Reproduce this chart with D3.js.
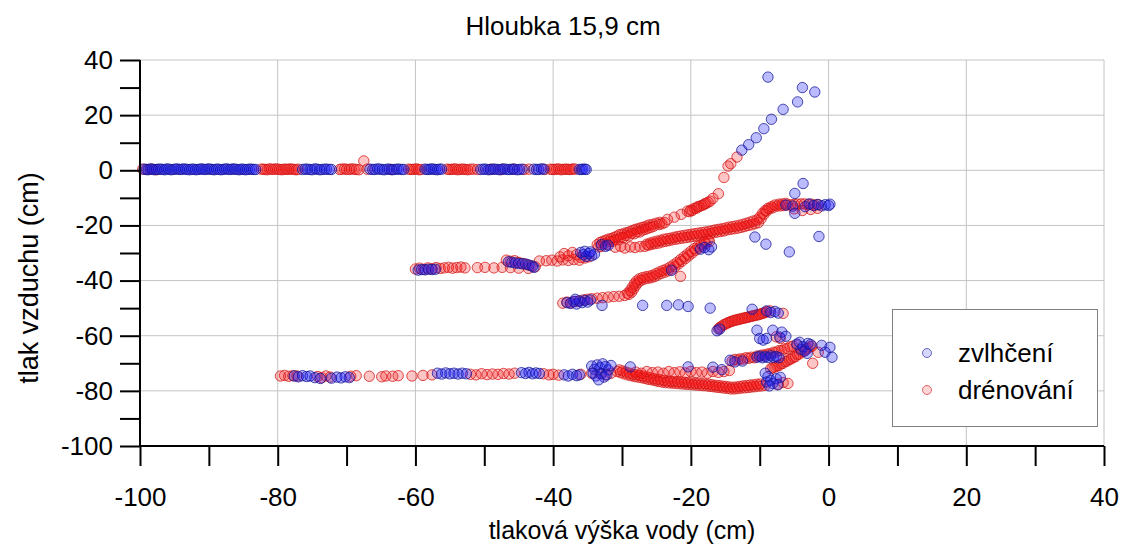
<!DOCTYPE html>
<html>
<head>
<meta charset="utf-8">
<script src="https://cdn.jsdelivr.net/npm/d3@7"></script>
<style>
  body { margin: 0; background: #fff; }
  svg text { font-family: "Liberation Sans", Arial, sans-serif; fill: #000; }
</style>
</head>
<body>
<svg id="chart" width="1126" height="545"></svg>
<script>
// ---- texts and ticks ----
const chartTitle = "Hloubka 15,9 cm";
const xTitle = "tlaková výška vody (cm)";
const yTitle = "tlak vzduchu (cm)";
const seriesNames = ["zvlhčení", "drénování"];
const xTicks = [-100, -90, -80, -70, -60, -50, -40, -30, -20, -10, 0, 10, 20, 30, 40];
const xTickLabels = [-100, -80, -60, -40, -20, 0, 20, 40];
const yTicks = [-100, -90, -80, -70, -60, -50, -40, -30, -20, -10, 0, 10, 20, 30, 40];
const yTickLabels = [-100, -80, -60, -40, -20, 0, 20, 40];

// ---- zvlhčení (wetting), [water head, air pressure] in cm ----
const wetPlateau = [
  [-99.4,0.4],[-99.1,0.3],[-98.8,0.2],[-98.5,0.5],[-98.2,0.4],[-97.9,0.2],[-97.6,0.3],[-97.3,0.4],
  [-97.0,0.4],[-96.7,0.3],[-96.4,0.2],[-96.1,0.5],[-95.8,0.4],[-95.5,0.2],[-95.2,0.3],[-94.9,0.4],
  [-94.6,0.5],[-94.3,0.3],[-94.0,0.3],[-93.7,0.5],[-93.4,0.4],[-93.1,0.3],[-92.8,0.2],[-92.5,0.4],
  [-92.2,0.4],[-91.9,0.2],[-91.6,0.3],[-91.3,0.4],[-91.0,0.5],[-90.7,0.3],[-90.4,0.3],[-90.1,0.5],
  [-89.8,0.4],[-89.5,0.3],[-89.2,0.2],[-88.9,0.4],[-88.6,0.4],[-88.3,0.2],[-88.0,0.3],[-87.7,0.4],
  [-87.4,0.5],[-87.1,0.3],[-86.8,0.3],[-86.5,0.5],[-86.2,0.4],[-85.9,0.3],[-85.6,0.2],[-85.3,0.4],
  [-85.0,0.4],[-84.7,0.2],[-84.4,0.3],[-84.1,0.4],[-83.8,0.4],[-83.5,0.3],[-83.2,0.3],
  [-76.4,0.3],[-76.0,0.4],[-75.7,0.4],[-75.3,0.3],[-75.0,0.2],[-74.6,0.5],[-74.3,0.4],[-73.9,0.2],
  [-73.6,0.3],[-73.2,0.4],[-72.9,0.4],[-72.5,0.3],[-72.2,0.3],
  [-66.6,0.4],[-66.2,0.3],[-65.9,0.3],[-65.5,0.5],[-65.2,0.4],[-64.8,0.3],[-64.5,0.2],[-64.1,0.4],
  [-63.8,0.4],[-63.4,0.2],[-63.1,0.3],[-62.7,0.4],[-62.4,0.4],[-62.0,0.3],[-61.7,0.3],
  [-58.6,0.4],[-58.3,0.3],[-58.0,0.3],[-57.7,0.5],[-57.4,0.4],[-57.1,0.3],[-56.8,0.2],[-56.5,0.4],[-56.2,0.4],
  [-50.5,0.3],[-50.1,0.4],[-49.8,0.4],[-49.4,0.2],[-49.1,0.3],[-48.7,0.4],[-48.4,0.4],[-48.0,0.3],
  [-47.7,0.2],[-47.3,0.5],[-47.0,0.4],[-46.6,0.3],[-46.3,0.3],[-45.9,0.4],[-45.6,0.4],[-45.2,0.2],
  [-44.9,0.3],[-44.5,0.4],[-42.8,0.4],[-42.4,0.3],[-42.1,0.3],[-41.7,0.5],[-41.4,0.4],
  [-36.2,0.3],[-35.9,0.3],[-35.7,0.4],[-35.4,0.4],[-35.2,0.3]
];
const wetUpper = [
  [-59.6,-36.2],[-59.1,-36.0],[-58.6,-36.1],[-58.1,-35.9],[-57.6,-36.0],[-57.1,-35.9],
  [-46.5,-33.2],[-46.0,-33.4],[-45.5,-33.6],[-45.0,-33.8],[-44.5,-33.9],[-44.0,-34.0],[-43.5,-34.4],
  [-43.0,-34.8],[-42.8,-35.2],
  [-36.0,-29.8],[-35.6,-30.6],[-35.2,-31.2],[-34.8,-30.2],[-34.4,-31.0],[-34.0,-30.4],[-35.4,-29.4],[-34.6,-29.6],
  [-33.0,-27.0],[-32.4,-27.6],[-32.0,-27.2],
  [-18.6,-28.6],[-18.0,-28.0],[-17.4,-28.8],[-17.0,-27.8],
  [-10.7,-24.2],[-9.1,-26.8],[-5.7,-29.6],[-1.4,-24.0],
  [-6.2,-12.6],[-5.2,-13.0],[-4.9,-15.6],[-4.9,-8.4],[-3.7,-4.8],[-3.4,-13.2],[-2.8,-12.2],[-2.2,-12.8],
  [-1.6,-12.4],[-1.0,-12.9],[-0.5,-12.5],[0.0,-12.8],[0.2,-12.3],
  [-12.6,7.3],[-11.6,9.3],[-10.5,11.8],[-9.4,15.1],[-8.3,18.5],[-6.6,22.1],[-4.5,24.8],[-3.8,30.0],
  [-2.0,28.4],[-8.8,33.8]
];
const wetMiddle = [
  [-38.0,-48.0],[-37.5,-48.3],[-37.0,-47.6],[-36.6,-48.5],[-36.2,-47.4],[-35.8,-48.0],[-35.4,-47.2],
  [-35.0,-47.8],[-34.6,-47.0],[-36.8,-46.8],[-32.9,-49.0],
  [-27.0,-49.0],[-23.5,-49.0],[-21.8,-48.8],[-20.4,-49.4],[-17.2,-50.0],[-22.8,-36.3],
  [-16.2,-58.2],[-15.8,-57.6],[-11.1,-50.4],[-9.0,-51.0],[-8.4,-51.6],[-7.8,-51.2],[-7.3,-51.8],
  [-10.4,-58.0],[-10.0,-61.0],[-9.5,-61.6],[-9.0,-61.0],[-8.1,-58.0],[-7.1,-60.5],[-6.8,-58.7],[-6.2,-60.2],
  [-4.6,-63.0],[-4.2,-62.4],[-4.0,-65.0],[-3.7,-64.0],[-3.4,-65.5],[-3.1,-66.4],[-3.0,-62.8],[-2.6,-63.2],
  [-1.0,-63.5],[-0.5,-66.0],[0.2,-64.2],[0.5,-67.8]
];
const wetLower = [
  [-77.6,-74.6],[-77.0,-74.9],[-76.4,-74.5],[-75.8,-74.8],[-75.3,-74.6],[-74.6,-75.2],[-73.8,-75.5],
  [-72.2,-75.4],[-71.4,-75.0],[-70.8,-75.3],[-70.2,-74.9],[-69.6,-75.2],
  [-56.8,-73.6],[-56.2,-73.9],[-55.6,-73.5],[-55.0,-73.8],[-54.4,-73.6],[-53.8,-73.9],[-53.2,-73.6],[-52.6,-73.8],
  [-44.6,-73.4],[-44.0,-73.7],[-43.5,-73.3],[-43.0,-73.8],[-42.5,-73.5],[-42.0,-73.7],
  [-38.4,-74.2],[-37.8,-74.6],[-37.2,-74.0],[-36.6,-74.5],[-36.2,-74.2],
  [-34.4,-71.0],[-34.0,-72.2],[-33.6,-70.6],[-33.2,-71.6],[-32.8,-70.2],[-32.4,-71.2],[-32.0,-72.4],
  [-31.6,-70.8],[-34.2,-73.6],[-33.8,-74.6],[-33.0,-73.8],[-32.6,-75.0],[-32.2,-74.2],[-33.4,-76.0],
  [-28.8,-71.3],[-20.4,-71.3],[-16.8,-71.4],[-15.5,-72.3],[-14.3,-68.9],[-13.6,-69.5],[-12.5,-69.2],
  [-10.4,-67.8],[-10.0,-67.4],[-9.6,-68.0],[-9.2,-67.6],[-8.8,-67.9],[-8.4,-67.3],[-8.0,-67.8],
  [-7.6,-67.5],[-7.2,-68.0],
  [-9.2,-73.6],[-8.8,-74.8],[-9.0,-76.8],[-8.4,-76.2],[-8.1,-77.3],[-7.6,-75.6],[-7.0,-75.1],
  [-7.4,-77.8],[-8.6,-78.2]
];

// ---- drénování (drainage) ----
const drainPlateau = [
  [-99.6,0.4],[-99.0,0.3],[-98.3,0.4],[-97.6,0.2],
  [-82.4,0.4],[-82.1,0.4],[-81.8,0.3],[-81.5,0.2],[-81.2,0.5],[-80.9,0.4],[-80.6,0.3],[-80.3,0.5],
  [-80.0,0.4],[-79.7,0.3],[-79.4,0.2],[-79.1,0.4],[-78.8,0.4],[-78.5,0.3],[-78.2,0.5],[-77.9,0.4],
  [-77.6,0.3],[-77.3,0.2],[-77.0,0.4],
  [-71.0,0.3],[-70.7,0.4],[-70.3,0.5],[-70.0,0.3],[-69.6,0.3],[-69.3,0.5],[-68.9,0.4],[-68.6,0.3],
  [-68.2,0.2],[-67.5,3.4],[-67.0,0.4],
  [-63.5,0.3],[-61.0,0.4],[-60.7,0.3],[-60.4,0.3],[-60.1,0.4],[-59.8,0.5],[-59.5,0.2],[-59.2,0.3],
  [-55.4,0.4],[-55.1,0.3],[-54.8,0.3],[-54.5,0.4],[-54.2,0.5],[-53.9,0.2],[-53.6,0.3],[-53.3,0.4],
  [-53.0,0.4],[-52.7,0.3],[-52.4,0.2],[-52.0,0.4],[-51.6,0.4],[-51.0,0.3],
  [-49.0,0.4],[-47.5,0.3],[-45.8,0.4],[-44.2,0.3],[-43.5,0.4],[-41.2,0.3],
  [-40.4,0.4],[-40.1,0.3],[-39.8,0.3],[-39.5,0.4],[-39.2,0.5],[-38.9,0.2],[-38.6,0.3],[-38.3,0.4],
  [-38.0,0.4],[-37.7,0.3],[-37.4,0.3],[-37.1,0.5],[-36.8,0.4]
];
const drainUpper = [
  [-60.0,-35.8],[-59.4,-35.5],[-58.8,-35.9],[-58.2,-35.4],[-57.6,-35.7],[-57.0,-35.3],[-56.4,-35.6],
  [-55.8,-35.4],[-55.2,-35.2],[-54.6,-35.5],[-54.0,-35.3],[-53.4,-35.1],[-52.8,-35.4],[-51.0,-35.3],
  [-49.9,-35.2],[-48.6,-35.4],[-47.4,-35.2],
  [-46.8,-32.6],[-46.2,-33.0],[-45.6,-32.8],[-45.0,-33.4],[-44.4,-33.8],[-43.8,-34.2],[-43.2,-34.6],
  [-42.6,-35.0],[-46.2,-35.3],[-45.0,-35.5],[-43.6,-35.6],[-42.0,-32.9],
  [-41.0,-32.8],[-40.2,-32.6],[-39.4,-32.9],[-38.6,-32.5],[-37.8,-32.7],[-37.0,-32.4],[-36.2,-32.6],
  [-39.0,-31.4],[-38.4,-30.2],[-37.8,-31.0],[-37.2,-29.8],[-36.6,-30.6],[-36.0,-31.6],[-35.4,-31.8],[-34.8,-31.4],
  [-33.6,-27.0],[-33.2,-26.2],[-32.8,-25.8],[-32.4,-25.4],[-32.0,-25.0],[-31.6,-24.8],[-31.2,-24.4],
  [-30.8,-24.0],[-30.4,-23.4],[-30.0,-23.2],[-29.6,-22.8],[-29.2,-22.6],[-28.8,-22.2],[-28.4,-21.8],
  [-28.0,-21.4],[-27.6,-21.2],[-27.2,-20.8],[-26.8,-20.6],[-26.4,-20.2],[-26.0,-19.8],[-25.5,-19.6],
  [-25.0,-19.2],[-24.5,-18.9],[-33.0,-27.6],[-32.2,-26.8],[-31.4,-25.8],[-30.6,-25.2],[-29.8,-24.4],
  [-29.0,-23.8],[-28.2,-23.0],[-27.4,-22.4],
  [-33.4,-27.8],[-32.6,-26.6],[-31.8,-25.8],[-31.0,-25.2],[-30.2,-24.4],[-29.4,-23.6],[-28.6,-22.9],
  [-27.8,-22.3],[-27.0,-21.7],[-26.6,-21.4],[-26.2,-21.0],[-25.8,-20.7],[-25.4,-20.3],[-24.6,-19.7],
  [-24.2,-19.4],[-23.8,-19.0],
  [-23.4,-17.8],[-22.4,-17.0],[-21.4,-16.0],[-20.5,-14.8],[-20.2,-15.0],[-20.0,-14.4],[-19.8,-14.6],
  [-19.5,-13.8],[-19.2,-13.8],[-19.0,-13.2],[-18.8,-13.2],[-18.5,-12.8],[-18.2,-12.6],[-18.0,-12.2],
  [-17.8,-12.0],[-17.5,-11.6],[-17.2,-11.2],[-16.8,-10.2],[-16.0,-8.5],
  [-15.2,-2.6],[-14.6,1.5],[-14.2,2.4],[-13.3,4.8]
];
const drainMiddle = [
  [-31.0,-27.9],[-30.2,-27.6],[-29.6,-28.2],[-28.8,-27.8],[-28.1,-28.0],[-27.4,-27.7],
  [-26.7,-27.6],[-26.2,-27.2],[-25.7,-26.9],[-25.2,-26.6],[-24.7,-26.4],[-24.2,-26.0],[-23.7,-25.8],
  [-23.2,-25.5],[-22.7,-25.2],[-22.2,-25.0],[-21.7,-24.8],[-21.2,-24.6],[-20.7,-24.4],[-20.2,-24.2],
  [-19.7,-24.0],[-19.2,-23.8],[-18.7,-23.6],[-18.2,-23.4],[-17.7,-23.2],[-17.2,-23.0],[-16.7,-22.6],
  [-16.2,-22.4],[-15.7,-22.2],[-15.2,-22.0],[-14.7,-21.6],[-14.2,-21.4],[-13.7,-21.2],[-13.2,-21.0],
  [-12.7,-20.7],[-12.2,-20.4],[-11.7,-20.0],[-11.2,-19.8],[-10.7,-19.4],[-10.2,-19.0],
  [-9.8,-17.6],[-9.4,-16.0],[-9.0,-14.8],[-8.6,-14.0],[-8.1,-13.6],[-7.5,-13.0],[-7.0,-12.9],
  [-6.5,-12.8],[-6.0,-12.6],[-5.5,-12.5],[-5.0,-12.4],[-4.5,-12.3],[-4.0,-12.2],[-3.5,-12.2],
  [-3.0,-12.4],[-2.5,-12.3],[-2.0,-12.6],[-1.5,-12.5],
  [-26.4,-26.8],[-25.9,-26.4],[-25.4,-26.0],[-24.9,-25.7],[-24.4,-25.4],[-23.9,-25.0],[-23.4,-24.8],
  [-22.9,-24.6],[-22.4,-24.3],[-21.9,-24.0],[-21.4,-23.8],[-20.9,-23.6],[-20.4,-23.4],[-19.9,-23.2],
  [-19.4,-23.0],[-18.9,-22.8],[-18.4,-22.6],[-17.9,-22.4],[-17.4,-22.2],[-16.9,-21.9],[-16.4,-21.6],
  [-15.9,-21.4],[-15.4,-21.2],[-14.9,-20.9],[-14.4,-20.6],[-13.9,-20.4],[-13.4,-20.2],[-12.9,-19.9],
  [-12.4,-19.6],[-11.9,-19.2],[-11.4,-18.8],[-10.9,-18.4],[-10.4,-18.0],[-10.0,-17.0],[-9.6,-15.6],
  [-9.2,-14.6],[-8.8,-13.8],[-8.3,-13.2],[-7.8,-12.6],[-7.2,-12.3],[-6.7,-12.2],[-6.2,-12.0],
  [-5.0,-14.0],[-3.8,-14.6],[-2.6,-14.2],[-1.6,-13.8],
  [-38.6,-48.2],[-38.0,-47.8],[-37.4,-48.0],[-36.8,-47.6],[-36.2,-47.4],[-35.6,-47.0],[-35.0,-46.8],
  [-34.4,-46.6],[-33.6,-46.4],[-32.8,-46.2],[-32.0,-46.0],[-31.2,-45.8],[-30.4,-45.7],[-29.6,-45.4],
  [-29.0,-45.0],[-28.6,-44.2],[-28.3,-43.0],[-28.0,-41.8],[-27.7,-40.8],[-27.3,-40.0],[-26.8,-39.5],
  [-26.3,-39.2],[-25.8,-39.0],[-25.3,-38.6],[-24.8,-38.0],[-24.3,-37.4],[-23.8,-37.0],[-23.3,-36.5],
  [-22.8,-35.8],[-22.3,-35.0],[-21.8,-34.0],[-21.3,-33.0],[-20.8,-32.0],[-20.3,-31.0],[-19.8,-30.0],
  [-19.3,-29.0],[-18.8,-28.2],[-18.3,-27.4],[-17.8,-26.6],[-17.3,-25.8],[-21.5,-38.5],
  [-29.2,-44.6],[-28.8,-43.6],[-28.5,-42.4],[-28.2,-41.2],[-27.9,-40.2],[-27.5,-39.4],[-27.0,-38.9],
  [-26.5,-38.6],[-26.0,-38.4],[-25.5,-38.0],[-25.0,-37.4],[-24.5,-36.8],[-24.0,-36.3],[-23.5,-35.8],
  [-23.0,-35.1],[-22.5,-34.3],[-22.0,-33.4],[-21.5,-32.4],[-21.0,-31.4],[-20.5,-30.4],[-20.0,-29.4],
  [-19.5,-28.4],[-19.0,-27.6],[-18.5,-26.8],[-18.0,-26.0],[-17.5,-25.2],
  [-16.0,-57.5],[-15.8,-57.0],[-15.5,-56.5],[-15.2,-56.0],[-15.0,-55.8],[-14.7,-55.4],[-14.5,-55.2],
  [-14.2,-54.9],[-14.0,-54.7],[-13.7,-54.5],[-13.5,-54.3],[-13.2,-54.2],[-13.0,-54.0],[-12.7,-53.9],
  [-12.5,-53.7],[-12.2,-53.6],[-12.0,-53.4],[-11.7,-53.3],[-11.5,-53.1],[-11.2,-53.0],[-11.0,-52.8],
  [-10.7,-52.7],[-10.5,-52.5],[-10.2,-52.4],[-10.0,-52.2],[-9.7,-52.0],[-9.5,-51.8],[-9.2,-51.6],
  [-9.0,-51.3],[-8.5,-51.0],[-6.6,-51.9],[-7.6,-60.4],[-7.0,-61.0]
];
const drainLower = [
  [-14.0,-69.2],[-13.6,-68.6],[-13.2,-68.8],[-12.8,-68.4],[-12.4,-68.5],[-12.0,-68.0],[-11.6,-68.2],
  [-11.2,-67.8],[-10.8,-68.0],[-10.4,-67.4],[-10.0,-67.4],[-9.6,-67.0],[-9.2,-67.0],[-8.8,-66.6],
  [-8.4,-66.6],[-8.0,-66.0],[-7.6,-66.0],[-7.2,-65.4],[-6.8,-65.4],[-6.4,-64.8],[-6.0,-64.6],
  [-5.6,-64.0],[-5.2,-63.8],[-4.6,-63.4],
  [-8.4,-72.0],[-8.1,-71.6],[-7.8,-71.4],[-7.5,-71.0],[-7.2,-70.8],[-6.9,-70.2],[-6.6,-70.0],
  [-6.3,-69.4],[-6.0,-69.2],[-5.7,-68.6],[-5.4,-68.4],[-5.1,-67.8],[-4.8,-67.6],[-4.5,-66.8],
  [-4.2,-66.6],[-3.9,-65.8],[-3.6,-65.6],[-3.3,-64.8],[-3.0,-64.6],[-2.7,-64.0],[-2.4,-63.8],
  [-2.3,-70.0],[-1.5,-66.0],
  [-79.6,-74.6],[-79.0,-74.4],[-78.4,-74.7],[-77.8,-74.5],[-77.2,-74.6],[-74.2,-74.8],[-73.6,-75.2],
  [-73.0,-74.6],[-72.4,-75.0],[-69.4,-74.7],[-68.6,-74.5],[-66.7,-74.7],[-64.9,-74.9],[-64.3,-74.6],
  [-63.3,-74.7],[-62.5,-74.5],[-60.5,-74.6],[-58.9,-74.4],[-57.6,-74.2],[-52.0,-74.0],[-51.2,-74.2],
  [-50.4,-73.8],[-49.6,-74.1],[-48.8,-73.9],[-48.0,-74.0],[-47.2,-73.7],[-46.4,-73.9],[-45.6,-73.6],
  [-41.4,-73.8],[-40.6,-74.2],[-40.0,-74.0],[-39.2,-74.3],[-36.0,-74.0],[-34.4,-73.6],[-33.2,-73.8],
  [-32.4,-74.2],[-31.6,-73.6],
  [-30.7,-73.0],[-30.2,-73.4],[-29.7,-73.8],[-29.2,-74.2],[-28.7,-74.5],[-28.2,-74.8],[-27.7,-75.0],
  [-27.2,-75.2],[-26.7,-75.5],[-26.2,-75.8],[-25.7,-76.0],[-25.2,-76.3],[-24.7,-76.6],[-24.2,-76.8],
  [-23.7,-77.0],[-23.2,-77.1],[-22.7,-77.2],[-22.2,-77.3],[-21.7,-77.4],[-21.2,-77.5],[-20.7,-77.6],
  [-20.2,-77.7],[-19.7,-77.8],[-19.2,-77.9],[-18.7,-78.0],[-18.2,-78.1],[-17.7,-78.2],[-17.2,-78.4],
  [-16.7,-78.5],[-16.2,-78.7],[-15.7,-78.8],[-15.2,-79.0],[-14.7,-79.1],[-14.2,-79.3],[-13.7,-79.3],
  [-13.2,-79.2],[-12.7,-79.0],[-12.2,-78.9],[-11.7,-78.8],[-11.2,-78.6],[-10.7,-78.5],[-10.2,-78.3],
  [-9.7,-78.2],[-9.2,-78.0],[-7.3,-77.6],[-6.6,-77.0],[-5.9,-77.3],
  [-30.4,-72.4],[-29.9,-72.8],[-29.4,-73.2],[-28.9,-73.6],[-28.4,-74.0],[-27.9,-74.2],[-27.4,-74.4],
  [-26.9,-74.7],[-26.4,-75.0],[-25.9,-75.3],[-25.4,-75.6],[-24.9,-75.8],[-24.4,-76.0],[-23.9,-76.2],
  [-23.4,-76.4],[-22.9,-76.5],[-22.4,-76.6],[-21.9,-76.7],[-21.4,-76.8],[-20.9,-76.9],[-20.4,-77.0],
  [-19.9,-77.1],[-19.4,-77.2],[-18.9,-77.3],[-18.4,-77.4],[-17.9,-77.5],[-17.4,-77.6],[-16.9,-77.8],
  [-16.4,-78.0],[-15.9,-78.1],[-15.4,-78.3],[-14.9,-78.4],[-14.4,-78.6],[-13.9,-78.7],[-13.4,-78.6],
  [-12.9,-78.4],[-12.4,-78.2],[-11.9,-78.1],[-11.4,-77.9],[-10.9,-77.8],[-10.4,-77.6],[-9.9,-77.5],
  [-28.0,-73.2],[-27.2,-73.6],[-26.4,-73.0],[-25.6,-73.4],[-24.8,-73.2],[-24.0,-73.6],[-23.2,-73.0],
  [-22.4,-73.4],[-21.6,-73.1],[-20.8,-73.5],[-20.0,-73.0],[-19.2,-73.4],[-18.4,-73.2],[-17.6,-73.6],
  [-16.8,-73.0],[-16.0,-73.3],[-15.2,-73.0],[-14.4,-72.6]
];

const wetting = [...wetPlateau, ...wetUpper, ...wetMiddle, ...wetLower];
const draining = [...drainPlateau, ...drainUpper, ...drainMiddle, ...drainLower];

// ---- layout ----
const svg = d3.select("#chart");
const plot = { left: 140, right: 1104, top: 60, bottom: 446 };
const x = d3.scaleLinear().domain([-100, 40]).range([plot.left, plot.right]);
const y = d3.scaleLinear().domain([-100, 40]).range([plot.bottom, plot.top]);
const fontSize = 26;

// grid
const grid = svg.append("g");
grid.selectAll("line.vx").data(xTickLabels.filter(d => d > -100)).join("line")
  .attr("x1", d => x(d)).attr("x2", d => x(d))
  .attr("y1", plot.top).attr("y2", plot.bottom)
  .attr("stroke", "#c4c4c4").attr("stroke-width", 1);
grid.selectAll("line.hy").data(yTickLabels.filter(d => d > -100)).join("line")
  .attr("x1", plot.left).attr("x2", plot.right)
  .attr("y1", d => y(d)).attr("y2", d => y(d))
  .attr("stroke", "#c4c4c4").attr("stroke-width", 1);

// points
const styles = [
  { fill: "rgb(30,30,255)", fillOp: 0.3, stroke: "rgb(20,20,150)", strokeOp: 0.75 },
  { fill: "rgb(255,20,20)", fillOp: 0.25, stroke: "rgb(210,20,20)", strokeOp: 0.75 }
];
function drawSeries(data, s) {
  svg.append("g").selectAll("circle").data(data).join("circle")
    .attr("cx", d => x(d[0])).attr("cy", d => y(d[1])).attr("r", 5.2)
    .attr("fill", s.fill).attr("fill-opacity", s.fillOp)
    .attr("stroke", s.stroke).attr("stroke-opacity", s.strokeOp).attr("stroke-width", 1);
}
drawSeries(draining, styles[1]);
drawSeries(wetting, styles[0]);

// axes
const labelSet = new Set(xTickLabels);
const xAxis = d3.axisBottom(x).tickValues(xTicks).tickSize(20).tickPadding(22)
  .tickFormat(d => labelSet.has(d) ? String(d) : "");
const yLabelSet = new Set(yTickLabels);
const yAxis = d3.axisLeft(y).tickValues(yTicks).tickSize(20).tickPadding(7)
  .tickFormat(d => yLabelSet.has(d) ? String(d) : "");

const gx = svg.append("g").attr("transform", `translate(0,${plot.bottom})`).call(xAxis);
const gy = svg.append("g").attr("transform", `translate(${plot.left},0)`).call(yAxis);
[gx, gy].forEach(g => {
  g.select(".domain").remove();
  g.selectAll(".tick line").attr("stroke", "#000").attr("stroke-width", 2);
  g.selectAll(".tick text").attr("font-size", fontSize)
    .attr("font-family", "Liberation Sans, Arial, sans-serif").attr("fill", "#000");
});
svg.append("line").attr("x1", plot.left).attr("x2", plot.right)
  .attr("y1", plot.bottom).attr("y2", plot.bottom).attr("stroke", "#000").attr("stroke-width", 2);
svg.append("line").attr("x1", plot.left).attr("x2", plot.left)
  .attr("y1", plot.top).attr("y2", plot.bottom).attr("stroke", "#000").attr("stroke-width", 2);

// titles
svg.append("text").attr("x", 563).attr("y", 35).attr("text-anchor", "middle")
  .attr("font-size", fontSize).text(chartTitle);
svg.append("text").attr("x", (plot.left + plot.right) / 2).attr("y", 539).attr("text-anchor", "middle")
  .attr("font-size", fontSize - 1).text(xTitle);
svg.append("text").attr("transform", "translate(38,278) rotate(-90)").attr("text-anchor", "middle")
  .attr("font-size", fontSize + 1).text(yTitle);

// legend
const lg = svg.append("g");
lg.append("rect").attr("x", 892.5).attr("y", 309.5).attr("width", 205).attr("height", 117)
  .attr("fill", "#fff").attr("stroke", "#808080").attr("stroke-width", 1);
seriesNames.forEach((name, i) => {
  const cy = 353 + i * 37;
  lg.append("circle").attr("cx", 927).attr("cy", cy).attr("r", 4.5)
    .attr("fill", styles[i].fill).attr("fill-opacity", 0.18)
    .attr("stroke", styles[i].stroke).attr("stroke-opacity", 0.6).attr("stroke-width", 1);
  lg.append("text").attr("x", 958).attr("y", cy + 9).attr("font-size", fontSize).text(name);
});
</script>
</body>
</html>
